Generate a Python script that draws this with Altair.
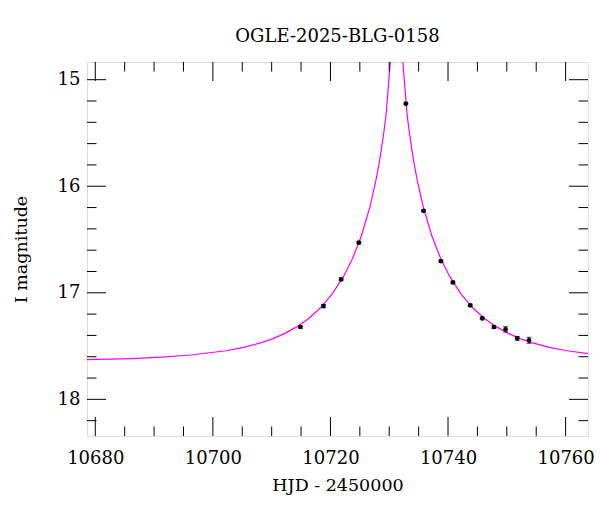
import altair as alt
import pandas as pd

title_text = "OGLE-2025-BLG-0158"
x_title = "HJD - 2450000"
y_title = "I magnitude"

# observed photometry (HJD - 2450000, I mag, error)
obs_hjd = [10714.89, 10718.81, 10721.82, 10724.83, 10732.83, 10735.83, 10738.79,
           10740.83, 10743.78, 10745.82, 10747.81, 10749.79, 10751.78, 10753.77]
obs_mag = [17.321, 17.125, 16.874, 16.530, 15.225, 16.231, 16.703,
           16.903, 17.118, 17.240, 17.321, 17.343, 17.427, 17.446]
obs_err = [0.012, 0.015, 0.012, 0.010, 0.006, 0.008, 0.010,
           0.011, 0.012, 0.013, 0.015, 0.025, 0.018, 0.028]

# model curve
model_hjd = [10678.59, 10686.25, 10691.25, 10696.25, 10702.25, 10705.25, 10708.25,
             10710.25, 10712.25, 10714.25, 10716.25, 10718.25, 10720.25, 10722.25,
             10723.75, 10725.25, 10726.75, 10727.75, 10728.25, 10728.64, 10729.05,
             10729.46, 10730.19, 10731.25,
             10732.31, 10733.04, 10733.45, 10733.86, 10734.25, 10734.75, 10735.75,
             10737.25, 10738.75, 10740.25, 10742.25, 10744.25, 10746.25, 10748.25,
             10750.25, 10752.25, 10754.25, 10757.25, 10760.25, 10763.81]
model_mag = [17.628, 17.617, 17.604, 17.584, 17.544, 17.512, 17.468,
             17.430, 17.381, 17.320, 17.243, 17.143, 17.014, 16.844,
             16.679, 16.467, 16.187, 15.941, 15.792, 15.661, 15.506,
             15.330, 14.830, 14.300,
             14.830, 15.330, 15.506, 15.661, 15.792, 15.941, 16.187,
             16.467, 16.679, 16.844, 17.014, 17.143, 17.243, 17.320,
             17.381, 17.430, 17.468, 17.512, 17.544, 17.571]

x_major = [10680, 10700, 10720, 10740, 10760]
x_minor = [10685, 10690, 10695, 10705, 10710, 10715, 10725, 10730, 10735,
           10745, 10750, 10755]
y_major = [15, 16, 17, 18]
y_minor = [15.2, 15.4, 15.6, 15.8, 16.2, 16.4, 16.6, 16.8, 17.2, 17.4, 17.6,
           17.8, 18.2]

W, H = 501, 374
MAJ, MIN = 19, 9.5
FONT = "DejaVu Serif"

obs = pd.DataFrame({"hjd": obs_hjd, "mag": obs_mag, "err": obs_err})
obs["lo"] = obs["mag"] - obs["err"]
obs["hi"] = obs["mag"] + obs["err"]
model = pd.DataFrame({"hjd": model_hjd, "mag": model_mag})

xs = alt.Scale(domain=[10678.59, 10763.81], nice=False, zero=False)
ys = alt.Scale(domain=[14.834, 18.344], reverse=True, nice=False, zero=False)

x_axis = alt.Axis(title=x_title, values=x_major, format="d", ticks=False, tickSize=0,
                  domain=False, grid=False, labelFont=FONT, labelFontSize=18,
                  labelColor="black", labelPadding=13, titleFont=FONT,
                  titleFontSize=17.5, titleFontWeight="normal", titleColor="black",
                  titlePadding=9, labelFlush=False)
y_axis = alt.Axis(title=y_title, values=y_major, format="d", ticks=False, tickSize=0,
                  domain=False, grid=False, labelFont=FONT, labelFontSize=18,
                  labelColor="black", labelPadding=7, titleFont=FONT,
                  titleFontSize=17.5, titleFontWeight="normal", titleColor="black",
                  titleX=-57, titleY=H / 2, labelFlush=False)


def X(field):
    return alt.X(field, scale=xs, axis=x_axis, title=x_title)


def Y(field):
    return alt.Y(field, scale=ys, axis=y_axis, title=y_title)


curve = alt.Chart(model).mark_line(color="#ff00ff", strokeWidth=1.2, clip=True).encode(
    x=X("hjd:Q"), y=Y("mag:Q"),
)

bars = alt.Chart(obs).mark_rule(color="black", strokeWidth=1.2).encode(
    x=X("hjd:Q"), y=Y("lo:Q"), y2="hi:Q",
)
cap_lo = alt.Chart(obs).mark_tick(color="black", orient="horizontal", size=5,
                                  thickness=1).encode(x=X("hjd:Q"), y=Y("lo:Q"))
cap_hi = alt.Chart(obs).mark_tick(color="black", orient="horizontal", size=5,
                                  thickness=1).encode(x=X("hjd:Q"), y=Y("hi:Q"))
pts = alt.Chart(obs).mark_circle(color="black", size=22, opacity=1).encode(
    x=X("hjd:Q"), y=Y("mag:Q"),
)


def xticks(vals, length):
    d = pd.DataFrame({"v": vals})
    base = alt.Chart(d).mark_rule(color="black", strokeWidth=1)
    bot = base.encode(x=X("v:Q"), y=alt.value(H), y2=alt.value(H - length))
    top = base.encode(x=X("v:Q"), y=alt.value(0), y2=alt.value(length))
    return [bot, top]


def yticks(vals, length):
    d = pd.DataFrame({"v": vals})
    base = alt.Chart(d).mark_rule(color="black", strokeWidth=1)
    left = base.encode(y=Y("v:Q"), x=alt.value(0), x2=alt.value(length))
    right = base.encode(y=Y("v:Q"), x=alt.value(W), x2=alt.value(W - length))
    return [left, right]


layers = [curve] + xticks(x_major, MAJ) + xticks(x_minor, MIN) + \
    yticks(y_major, MAJ) + yticks(y_minor, MIN) + [bars, cap_lo, cap_hi, pts]

chart = alt.layer(*layers).properties(
    width=W, height=H,
    title=alt.TitleParams(title_text, font=FONT, fontSize=18, fontWeight="normal",
                          color="black", anchor="middle", baseline="alphabetic",
                          offset=2),
    autosize=alt.AutoSizeParams(type="none"),
    padding={"left": 87, "top": 62, "right": 12, "bottom": 76},
).configure_view(stroke="black", strokeWidth=1.5).configure(background="white")

chart.save("out.html", embed_options={"renderer": "svg", "actions": False})
